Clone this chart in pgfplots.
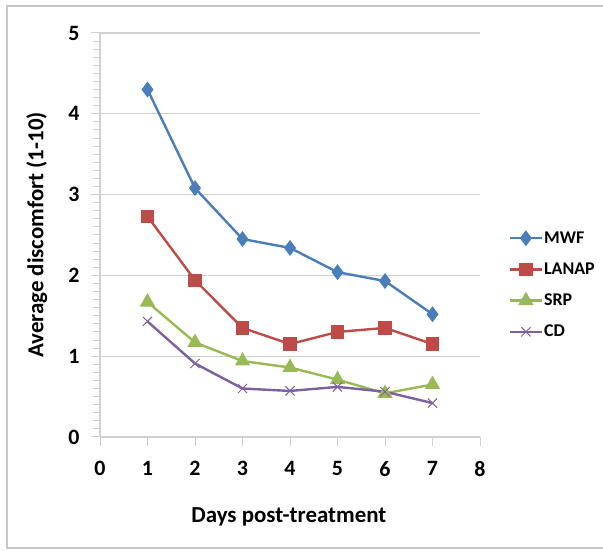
\documentclass[border=0pt]{standalone}
\usepackage{pgfplots}
\pgfplotsset{compat=1.18}
\usepackage{fontspec}
\setmainfont{Carlito}
\definecolor{mwf}{HTML}{4A7EBB}
\definecolor{lanap}{HTML}{BE4B48}
\definecolor{srp}{HTML}{98B954}
\definecolor{cd}{HTML}{7D60A0}
\definecolor{gridc}{HTML}{D0D0D0}
\begin{document}
\begin{tikzpicture}[x=1bp,y=1bp]
\useasboundingbox (0,0) rectangle (603,551);
\draw[gray!45, line width=1.5bp] (620,3) -- (7,3) -- (7,545) -- (620,545);
\begin{axis}[
  at={(100bp,114bp)}, anchor=south west,
  width=380bp, height=404bp, scale only axis,
  xmin=0, xmax=8, ymin=0, ymax=5,
  xtick={0,...,8}, ytick={0,...,5},
  minor y tick num=9,
  axis x line*=bottom, axis y line*=left,
  axis line style={gridc, line width=1.2bp, -},
  tick style={gridc, line width=1bp},
  tick align=outside,
  major tick length=9bp, minor tick length=7bp,
  ymajorgrids, grid style={gridc, line width=1.2bp},
  font=\bfseries\fontsize{23}{27}\selectfont,
  ticklabel style={font=\bfseries\fontsize{22}{26}\selectfont},
  xticklabel style={yshift=-12bp},
  yticklabel style={xshift=-8bp},
  /pgf/number format/assume math mode=true,
  xlabel={Days post-treatment},
  ylabel={Average discomfort (1-10)},
  every axis x label/.style={at={(axis description cs:0.497,-0.198)}, anchor=center},
  every axis y label/.style={at={(axis description cs:-0.166,0.5)}, rotate=90, anchor=center},
  legend style={at={(1.075,0.376)}, anchor=west, draw=none, fill=none,
    font=\bfseries\fontsize{18}{21}\selectfont, row sep=16bp,
    inner sep=0pt, nodes={inner sep=1pt}},
  legend cell align=left,
  legend image code/.code={
    \draw[mark repeat=2, mark phase=2] plot coordinates {(0bp,0bp) (16bp,0bp) (32bp,0bp)};
  },
  every axis plot/.append style={line width=2.4bp},
]
\addplot[mwf, mark=diamond*, mark size=6bp, mark options={solid}]
  coordinates {(1,4.30) (2,3.08) (3,2.45) (4,2.34) (5,2.04) (6,1.93) (7,1.52)};
\addlegendentry{MWF}
\addplot[lanap, mark=square*, mark size=5.5bp]
  coordinates {(1,2.73) (2,1.94) (3,1.35) (4,1.15) (5,1.30) (6,1.35) (7,1.15)};
\addlegendentry{LANAP}
\addplot[srp, mark=triangle*, mark size=6.5bp]
  coordinates {(1,1.67) (2,1.17) (3,0.94) (4,0.86) (5,0.71) (6,0.54) (7,0.65)};
\addlegendentry{SRP}
\addplot[cd, mark=x, mark size=6.5bp, mark options={line width=1bp}]
  coordinates {(1,1.43) (2,0.91) (3,0.60) (4,0.57) (5,0.62) (6,0.56) (7,0.42)};
\addlegendentry{CD}
\end{axis}
\end{tikzpicture}
\end{document}
